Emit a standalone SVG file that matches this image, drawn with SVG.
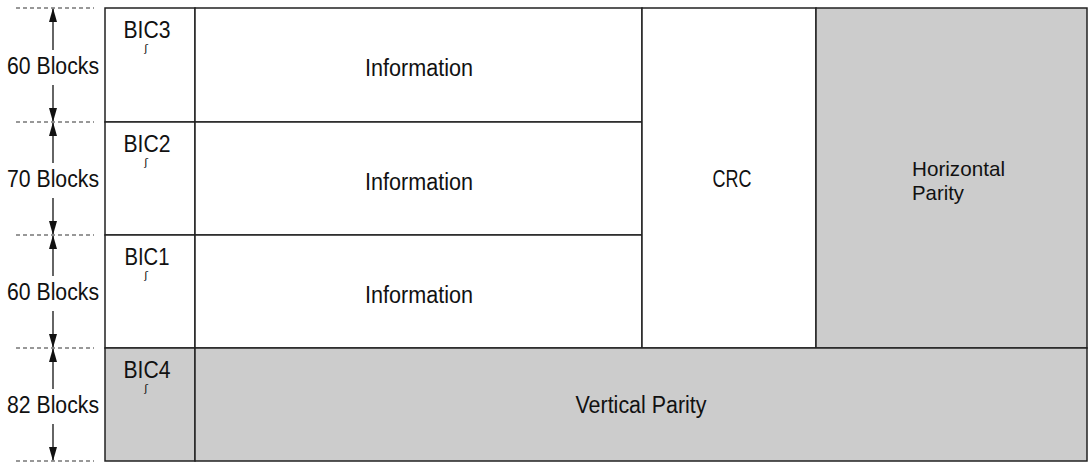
<svg xmlns="http://www.w3.org/2000/svg" width="1088" height="462" viewBox="0 0 1088 462">
<style>
.t{font-family:"Liberation Sans","Arial",sans-serif;font-size:23px;fill:#111;}
.m{text-anchor:middle;}
.hp{font-size:21px;}
.sq{font-family:"DejaVu Sans",sans-serif;font-size:11px;fill:#111;text-anchor:middle;}
.cell{stroke:#222;stroke-width:1.5;}
.w{fill:#fff;}
.g{fill:#cccccc;}
.dash{stroke:#333;stroke-width:1.2;stroke-dasharray:4,3;fill:none;}
.dim{stroke:#111;stroke-width:1.3;fill:none;}
</style>
<defs>
<marker id="ah" viewBox="0 0 14 8" refX="13" refY="4" markerWidth="14" markerHeight="8" markerUnits="userSpaceOnUse" orient="auto">
<path d="M0,0 L14,4 L0,8 Z" fill="#111"/>
</marker>
</defs>
<g id="connectors">
<line class="dash" x1="16" y1="8" x2="94" y2="8"/>
<line class="dash" x1="16" y1="122" x2="94" y2="122"/>
<line class="dash" x1="16" y1="235" x2="94" y2="235"/>
<line class="dash" x1="16" y1="348" x2="94" y2="348"/>
<line class="dash" x1="16" y1="461" x2="94" y2="461"/>
<line class="dim" x1="53" y1="50" x2="53" y2="9" marker-end="url(#ah)"/>
<line class="dim" x1="53" y1="85" x2="53" y2="121" marker-end="url(#ah)"/>
<line class="dim" x1="53" y1="163" x2="53" y2="123" marker-end="url(#ah)"/>
<line class="dim" x1="53" y1="198" x2="53" y2="234" marker-end="url(#ah)"/>
<line class="dim" x1="53" y1="276" x2="53" y2="236" marker-end="url(#ah)"/>
<line class="dim" x1="53" y1="311" x2="53" y2="347" marker-end="url(#ah)"/>
<line class="dim" x1="53" y1="389" x2="53" y2="349" marker-end="url(#ah)"/>
<line class="dim" x1="53" y1="424" x2="53" y2="460" marker-end="url(#ah)"/>
</g>
<g id="labels">
<text class="t m" x="53" y="74" textLength="92" lengthAdjust="spacingAndGlyphs">60 Blocks</text>
<text class="t m" x="53" y="187" textLength="92" lengthAdjust="spacingAndGlyphs">70 Blocks</text>
<text class="t m" x="53" y="300" textLength="92" lengthAdjust="spacingAndGlyphs">60 Blocks</text>
<text class="t m" x="53" y="413" textLength="92" lengthAdjust="spacingAndGlyphs">82 Blocks</text>
</g>
<g id="bic3">
<rect class="cell w" x="105" y="8" width="90" height="114"/>
<text class="t m" x="147" y="38" textLength="47" lengthAdjust="spacingAndGlyphs">BIC3</text>
<text class="sq" x="146" y="52">ʃ</text>
</g>
<g id="bic2">
<rect class="cell w" x="105" y="122" width="90" height="113"/>
<text class="t m" x="147" y="152" textLength="47" lengthAdjust="spacingAndGlyphs">BIC2</text>
<text class="sq" x="146" y="166">ʃ</text>
</g>
<g id="bic1">
<rect class="cell w" x="105" y="235" width="90" height="113"/>
<text class="t m" x="147" y="265" textLength="45" lengthAdjust="spacingAndGlyphs">BIC1</text>
<text class="sq" x="146" y="279">ʃ</text>
</g>
<g id="info3">
<rect class="cell w" x="195" y="8" width="447" height="114"/>
<text class="t m" x="419" y="76" textLength="108" lengthAdjust="spacingAndGlyphs">Information</text>
</g>
<g id="info2">
<rect class="cell w" x="195" y="122" width="447" height="113"/>
<text class="t m" x="419" y="190" textLength="108" lengthAdjust="spacingAndGlyphs">Information</text>
</g>
<g id="info1">
<rect class="cell w" x="195" y="235" width="447" height="113"/>
<text class="t m" x="419" y="303" textLength="108" lengthAdjust="spacingAndGlyphs">Information</text>
</g>
<g id="crc">
<rect class="cell w" x="642" y="8" width="174" height="340"/>
<text class="t m" x="732" y="187" textLength="39" lengthAdjust="spacingAndGlyphs">CRC</text>
</g>
<g id="hparity">
<rect class="cell g" x="816" y="8" width="271" height="340"/>
<text class="t hp" x="912" y="176" textLength="93" lengthAdjust="spacingAndGlyphs">Horizontal</text>
<text class="t hp" x="912" y="200" textLength="52" lengthAdjust="spacingAndGlyphs">Parity</text>
</g>
<g id="bic4">
<rect class="cell g" x="105" y="348" width="90" height="113"/>
<text class="t m" x="147" y="378" textLength="47" lengthAdjust="spacingAndGlyphs">BIC4</text>
<text class="sq" x="146" y="392">ʃ</text>
</g>
<g id="vparity">
<rect class="cell g" x="195" y="348" width="892" height="113"/>
<text class="t m" x="641" y="413" textLength="131" lengthAdjust="spacingAndGlyphs">Vertical Parity</text>
</g>
</svg>
